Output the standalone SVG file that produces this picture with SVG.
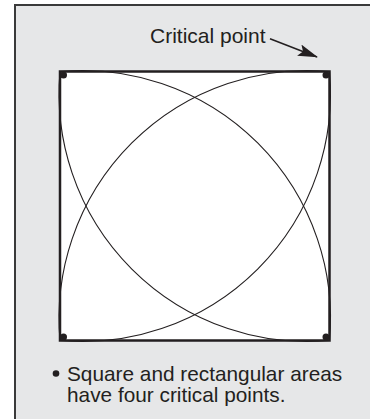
<svg xmlns="http://www.w3.org/2000/svg" width="370" height="419" viewBox="0 0 370 419">
  <style>
    .lbl { font-family: "Liberation Sans", Arial, Helvetica, sans-serif; font-size: 21px; fill: #231f20; }
    .note { font-size: 20.8px; }
    .arc { fill: none; stroke: #231f20; stroke-width: 1.1; }
    .dot { fill: #231f20; }
  </style>
  <defs>
    <marker id="ah" viewBox="0 0 20 12" refX="19" refY="6" markerWidth="20" markerHeight="12" markerUnits="userSpaceOnUse" orient="auto">
      <path d="M0,0 L20,6 L0,12 L4,6 Z" fill="#231f20"/>
    </marker>
  </defs>
  <g id="frame">
    <rect x="15" y="5" width="360" height="420" fill="#e6e7e8"/>
    <path d="M15,419 V5 H370" fill="none" stroke="#3a3a3a" stroke-width="2"/>
  </g>
  <g id="square">
    <rect x="60" y="71.5" width="269.5" height="269" fill="#ffffff"/>
    <path class="arc" d="M60,71.5 A248,248 0 0 1 329.5,340.5"/>
    <path class="arc" d="M60,340.5 A248,248 0 0 1 329.5,71.5"/>
    <path class="arc" d="M329.5,340.5 A248,248 0 0 1 60,71.5"/>
    <path class="arc" d="M329.5,71.5 A248,248 0 0 1 60,340.5"/>
    <rect x="60" y="71.5" width="269.5" height="269" fill="none" stroke="#231f20" stroke-width="2.5"/>
    <circle class="dot" cx="63.5" cy="75" r="3.5"/>
    <circle class="dot" cx="326" cy="75" r="3.5"/>
    <circle class="dot" cx="63.5" cy="337" r="3.5"/>
    <circle class="dot" cx="326" cy="337" r="3.5"/>
  </g>
  <g id="label-critical-point">
    <text class="lbl" x="150" y="43.3">Critical point</text>
  </g>
  <g id="connectors">
    <line x1="270" y1="38.8" x2="317" y2="57" stroke="#231f20" stroke-width="1.5" marker-end="url(#ah)"/>
  </g>
  <g id="note">
    <circle class="dot" cx="56" cy="373.5" r="3.3"/>
    <text class="lbl note" x="67" y="381">Square and rectangular areas</text>
    <text class="lbl note" x="67" y="402">have four critical points.</text>
  </g>
</svg>
